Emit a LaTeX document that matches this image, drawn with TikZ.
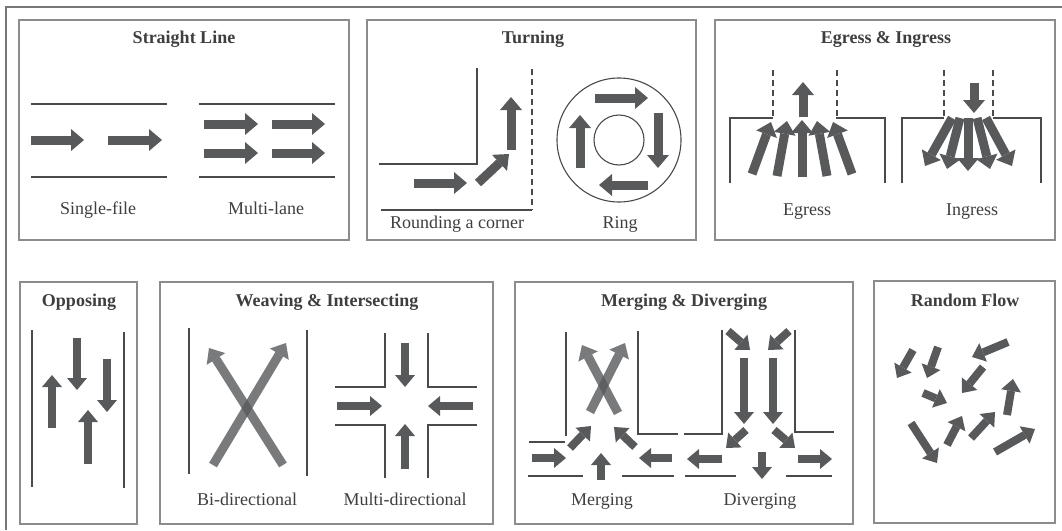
\documentclass[tikz,border=0pt]{standalone}
\usepackage{fontspec}
\setmainfont{Liberation Serif}
\usetikzlibrary{arrows.meta}
\definecolor{framegrey}{HTML}{8C8C8C}
\definecolor{roadgrey}{HTML}{4A4A4A}
\definecolor{flowgrey}{HTML}{58595B}
\definecolor{textgrey}{HTML}{3E3E3E}
\tikzset{
	panel/.style={draw=framegrey, line width=1.6pt},
	road/.style={draw=roadgrey, line width=1.1pt},
	kerb/.style={road, dash pattern=on 6pt off 4pt},
	flow/.style={draw=flowgrey, line width=9pt, -{Triangle[width=22pt, length=13pt, line width=0pt]}},
	smallflow/.style={draw=flowgrey, line width=8pt, -{Triangle[width=20pt, length=12pt, line width=0pt]}},
	crossflow/.style={flow, opacity=0.8},
	title/.style={font=\fontsize{18}{21}\selectfont\bfseries, text=textgrey, anchor=base, inner sep=0pt},
	caption/.style={font=\fontsize{18}{21}\selectfont, text=textgrey, anchor=base, inner sep=0pt}
}
\begin{document}
\begin{tikzpicture}[x=1pt, y=-1pt]
	\useasboundingbox (0, 0) rectangle (1062, 530);
	% Frame and panels:
	\draw[draw=framegrey!85!black, line width=1.4pt] (1062, 7) -- (6, 7) -- (6, 530);
	\draw[panel] (19, 20) rectangle (349, 240);
	\draw[panel] (367, 20) rectangle (696, 240);
	\draw[panel] (715, 20) rectangle (1055, 240);
	\draw[panel] (20, 282) rectangle (137, 524);
	\draw[panel] (160, 282) rectangle (493, 524);
	\draw[panel] (515, 282) rectangle (853, 524);
	\draw[panel] (874, 281) rectangle (1055, 523);
	% Titles and captions:
	\node[title] (straight) at (184, 43){Straight Line};
	\node[title] (turning) at (533, 43){Turning};
	\node[title] (egressingress) at (886, 43){Egress \& Ingress};
	\node[title] (opposing) at (79, 306){Opposing};
	\node[title] (weaving) at (327, 306){Weaving \& Intersecting};
	\node[title] (merging) at (684, 306){Merging \& Diverging};
	\node[title] (random) at (965, 306){Random Flow};
	\node[caption] (single) at (98, 214){Single-file};
	\node[caption] (multilane) at (266, 214){Multi-lane};
	\node[caption] (corner) at (457, 228){Rounding a corner};
	\node[caption] (ring) at (620, 228){Ring};
	\node[caption] (egress) at (807, 215){Egress};
	\node[caption] (ingress) at (972, 215){Ingress};
	\node[caption] (bidir) at (247, 505){Bi-directional};
	\node[caption] (multidir) at (405, 505){Multi-directional};
	\node[caption] (merge) at (602, 505){Merging};
	\node[caption] (diverge) at (760, 505){Diverging};
	% Straight line:
	\draw[road] (31, 104) -- (167, 104);
	\draw[road] (31, 177) -- (167, 177);
	\draw[road] (199, 104) -- (335, 104);
	\draw[road] (199, 177) -- (335, 177);
	\draw[flow] (31, 140) -- (84, 140);
	\draw[flow] (108, 140) -- (162, 140);
	\draw[flow] (204, 124) -- (258, 124);
	\draw[flow] (272, 124) -- (325, 124);
	\draw[flow] (204, 153) -- (258, 153);
	\draw[flow] (272, 153) -- (325, 153);
	% Turning:
	\draw[road] (477, 68) -- (477, 164) -- (379, 164);
	\draw[kerb] (532, 69) -- (532, 210);
	\draw[road] (381, 210) -- (532, 210);
	\draw[flow] (414, 183) -- (467, 183);
	\draw[flow] (478, 183) -- (509, 154);
	\draw[flow] (511, 150) -- (511, 97);
	\draw[road] (619, 140) circle (62);
	\draw[road] (619, 140) circle (25);
	\draw[flow] (595, 98) -- (648, 98);
	\draw[flow] (658, 113) -- (658, 168);
	\draw[flow] (648, 185) -- (599, 185);
	\draw[flow] (580, 168) -- (580, 115);
	% Egress and ingress:
	\draw[road] (730, 183) -- (730, 118) -- (773, 118);
	\draw[road] (836, 118) -- (885, 118) -- (885, 183);
	\draw[kerb] (773, 70) -- (773, 118);
	\draw[kerb] (837, 70) -- (837, 118);
	\draw[flow] (803, 117) -- (803, 82);
	\draw[flow] (752, 174) -- (771, 122);
	\draw[flow] (777, 176) -- (787, 121);
	\draw[flow] (802, 177) -- (802, 120);
	\draw[flow] (827, 176) -- (817, 121);
	\draw[flow] (852, 174) -- (833, 122);
	\draw[road] (902, 183) -- (902, 118) -- (944, 118);
	\draw[road] (993, 118) -- (1041, 118) -- (1041, 183);
	\draw[kerb] (944, 70) -- (944, 118);
	\draw[kerb] (993, 70) -- (993, 118);
	\draw[flow] (974, 83) -- (974, 113);
	\draw[flow] (952, 118) -- (925, 166);
	\draw[flow] (960, 118) -- (947, 169);
	\draw[flow] (968, 118) -- (968, 171);
	\draw[flow] (977, 118) -- (990, 169);
	\draw[flow] (986, 118) -- (1012, 166);
	% Opposing:
	\draw[road] (32, 330) -- (32, 487);
	\draw[road] (124, 332) -- (124, 488);
	\draw[smallflow] (52, 428) -- (52, 375);
	\draw[smallflow] (77, 338) -- (77, 390);
	\draw[smallflow] (107, 359) -- (107, 412);
	\draw[smallflow] (88, 464) -- (88, 410);
	% Weaving and intersecting:
	\draw[road] (189, 328) -- (189, 474);
	\draw[road] (307, 330) -- (307, 476);
	\draw[crossflow] (213, 465) -- (286, 343);
	\draw[crossflow] (283, 465) -- (209, 348);
	\draw[road] (385, 333) -- (385, 387) -- (335, 387);
	\draw[road] (428, 333) -- (428, 387) -- (477, 387);
	\draw[road] (385, 478) -- (385, 425) -- (335, 425);
	\draw[road] (428, 478) -- (428, 425) -- (477, 425);
	\draw[smallflow] (405, 343) -- (405, 387);
	\draw[smallflow] (405, 469) -- (405, 424);
	\draw[smallflow] (337, 406) -- (382, 406);
	\draw[smallflow] (473, 406) -- (428, 406);
	% Merging and diverging:
	\draw[road] (566, 332) -- (566, 436);
	\draw[road] (529, 442) -- (565, 442);
	\draw[road] (638, 331) -- (638, 434) -- (678, 434);
	\draw[road] (528, 476) -- (583, 476);
	\draw[road] (622, 476) -- (674, 476);
	\draw[crossflow] (590, 412) -- (625, 343);
	\draw[crossflow] (618, 413) -- (582, 345);
	\draw[smallflow] (532, 458) -- (566, 458);
	\draw[smallflow] (570, 448) -- (591, 426);
	\draw[smallflow] (601, 480) -- (601, 453);
	\draw[smallflow] (635, 447) -- (614, 427);
	\draw[smallflow] (672, 458) -- (639, 458);
	\draw[road] (722, 330) -- (722, 434) -- (684, 434);
	\draw[road] (795, 330) -- (795, 432) -- (834, 432);
	\draw[road] (685, 476) -- (736, 476);
	\draw[road] (786, 476) -- (832, 476);
	\draw[smallflow] (728, 331) -- (750, 350);
	\draw[smallflow] (789, 331) -- (768, 350);
	\draw[smallflow] (744, 358) -- (744, 424);
	\draw[smallflow] (773, 358) -- (773, 424);
	\draw[smallflow] (746, 430) -- (726, 448);
	\draw[smallflow] (774, 430) -- (795, 448);
	\draw[smallflow] (722, 459) -- (687, 459);
	\draw[smallflow] (762, 452) -- (762, 479);
	\draw[smallflow] (798, 459) -- (832, 459);
	% Random flow:
	\draw[smallflow] (913, 350) -- (897, 378);
	\draw[smallflow] (938, 347) -- (927, 378);
	\draw[smallflow] (1008, 342) -- (972, 357);
	\draw[smallflow] (983, 367) -- (962, 393);
	\draw[smallflow] (923, 393) -- (947, 403);
	\draw[smallflow] (911, 423) -- (937, 463);
	\draw[smallflow] (947, 445) -- (962, 416);
	\draw[smallflow] (971, 438) -- (995, 412);
	\draw[smallflow] (1007, 415) -- (1013, 379);
	\draw[smallflow] (995, 452) -- (1035, 429);
\end{tikzpicture}
\end{document}
